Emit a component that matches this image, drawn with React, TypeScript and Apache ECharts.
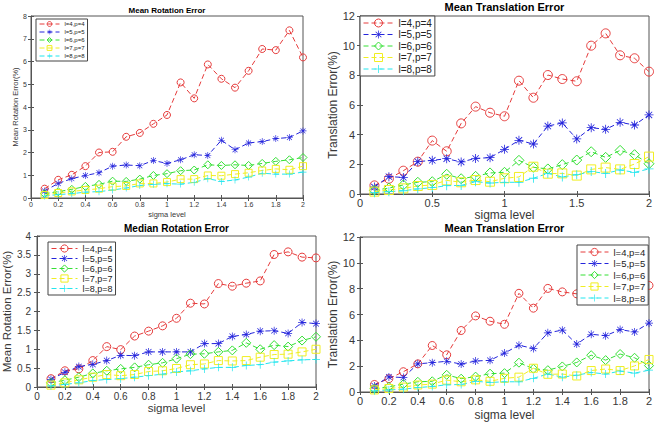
import React, { useEffect, useRef } from "react";
import * as echarts from "echarts";

const sigma = [0.1, 0.2, 0.3, 0.4, 0.5, 0.6, 0.7, 0.8, 0.9, 1.0, 1.1, 1.2, 1.3, 1.4, 1.5, 1.6, 1.7, 1.8, 1.9, 2.0];
const seriesNames = ["l=4,p=4", "l=5,p=5", "l=6,p=6", "l=7,p=7", "l=8,p=8"];

const meanRotL4 = [0.41, 0.8, 1.02, 1.4, 2.0, 2.03, 2.69, 2.86, 3.26, 3.65, 5.08, 4.38, 5.87, 5.24, 4.85, 5.59, 6.55, 6.5, 7.37, 6.18];
const meanRotL5 = [0.31, 0.64, 0.85, 0.99, 1.11, 1.4, 1.45, 1.42, 1.65, 1.52, 1.68, 1.9, 1.87, 2.54, 2.12, 2.42, 2.48, 2.61, 2.66, 2.95];
const meanRotL6 = [0.19, 0.28, 0.38, 0.51, 0.6, 0.74, 0.73, 0.83, 0.99, 1.07, 1.2, 1.23, 1.46, 1.43, 1.46, 1.43, 1.52, 1.61, 1.68, 1.78];
const meanRotL7 = [0.13, 0.22, 0.29, 0.35, 0.41, 0.5, 0.53, 0.64, 0.64, 0.7, 0.83, 0.83, 0.99, 0.98, 1.05, 1.11, 1.21, 1.28, 1.24, 1.4];
const meanRotL8 = [0.09, 0.15, 0.19, 0.26, 0.28, 0.35, 0.44, 0.55, 0.6, 0.63, 0.61, 0.69, 0.85, 0.73, 0.79, 0.92, 1.09, 1.05, 1.05, 1.14];

const meanTransL4 = [0.58, 1.03, 1.57, 2.18, 3.6, 2.88, 4.76, 5.89, 5.48, 5.24, 7.64, 6.49, 8.02, 7.75, 7.6, 10.0, 10.83, 9.35, 9.15, 8.25];
const meanTransL5 = [0.47, 1.17, 1.12, 2.18, 2.27, 2.38, 2.16, 2.4, 2.45, 3.01, 3.62, 3.37, 4.58, 4.79, 3.71, 4.47, 4.36, 4.83, 4.65, 5.33];
const meanTransL6 = [0.25, 0.4, 0.61, 0.79, 0.83, 1.33, 1.03, 1.19, 1.42, 1.46, 2.27, 1.8, 1.69, 1.98, 2.29, 2.85, 2.47, 2.94, 2.65, 2.04];
const meanTransL7 = [0.16, 0.27, 0.38, 0.54, 0.61, 0.92, 0.79, 0.94, 0.83, 1.06, 1.15, 1.84, 1.37, 1.39, 1.24, 1.66, 1.78, 1.66, 2.02, 2.52];
const meanTransL8 = [0.09, 0.16, 0.22, 0.34, 0.43, 0.56, 0.58, 0.83, 0.74, 0.79, 0.79, 1.06, 1.39, 1.15, 1.3, 1.51, 1.39, 1.62, 1.46, 1.69];

const medianRotL4 = [0.22, 0.43, 0.48, 0.7, 1.07, 0.99, 1.35, 1.48, 1.62, 1.82, 2.22, 2.2, 2.74, 2.67, 2.75, 2.81, 3.51, 3.58, 3.44, 3.42];
const medianRotL5 = [0.2, 0.39, 0.54, 0.6, 0.7, 0.84, 0.83, 0.93, 0.93, 0.93, 0.93, 1.15, 1.15, 1.34, 1.39, 1.48, 1.49, 1.42, 1.71, 1.68];
const medianRotL6 = [0.11, 0.18, 0.26, 0.36, 0.43, 0.48, 0.52, 0.59, 0.64, 0.75, 0.87, 0.88, 0.93, 0.97, 1.17, 1.0, 1.11, 1.07, 1.23, 1.33];
const medianRotL7 = [0.05, 0.11, 0.19, 0.26, 0.33, 0.3, 0.33, 0.41, 0.43, 0.49, 0.59, 0.61, 0.7, 0.69, 0.7, 0.79, 0.86, 0.87, 0.93, 1.0];
const medianRotL8 = [0.03, 0.07, 0.11, 0.17, 0.2, 0.22, 0.26, 0.3, 0.34, 0.4, 0.43, 0.48, 0.52, 0.52, 0.57, 0.59, 0.66, 0.69, 0.72, 0.73];

const COLORS = ["#e63c3c", "#2424dc", "#34e034", "#f0ee22", "#22e6ee"];
const FONT = "'Liberation Sans', Arial, Helvetica, sans-serif";
const AXIS_COLOR = "#555555";
const TEXT_COLOR = "#383838";

const ASTERISK =
  "path://M0,4.55 H10 V5.45 H0 Z M4.55,0 H5.45 V10 H4.55 Z M1.78,1.14 L8.86,8.22 L8.22,8.86 L1.14,1.78 Z M1.14,8.22 L8.22,1.14 L8.86,1.78 L1.78,8.86 Z";
const PLUS = "path://M4.55,0 H5.45 V4.55 H10 V5.45 H5.45 V10 H4.55 V5.45 H0 V4.55 H4.55 Z";
const SYMBOLS = ["circle", ASTERISK, "diamond", "rect", PLUS];
const HOLLOW = [true, false, true, true, false];

type Panel = {
  title: string;
  ylabel: string;
  data: number[][];
  grid: { left: number; top: number; width: number; height: number };
  yMax: number;
  yInterval: number;
  xInterval: number;
  tickFont: number;
  titleFont: number;
  titleY: number;
  labelFont: number;
  yNameGap: number;
  xNameGap: number;
  xLabelMargin: number;
  yLabelMargin: number;
  symbolSize: number;
  legend: { left: number; top: number; fontSize: number; itemWidth: number; itemHeight: number; itemGap: number; padding: number[] };
};

const panels: Panel[] = [
  {
    title: "Mean Rotation Error",
    ylabel: "Mean Rotation Error(%)",
    data: [meanRotL4, meanRotL5, meanRotL6, meanRotL7, meanRotL8],
    grid: { left: 31, top: 16, width: 272, height: 182 },
    yMax: 8, yInterval: 1, xInterval: 0.2,
    tickFont: 7, titleFont: 8, titleY: 10, labelFont: 7.5,
    yNameGap: 8, xNameGap: 12, xLabelMargin: 3, yLabelMargin: 4, symbolSize: 7,
    legend: { left: 36, top: 19, fontSize: 6, itemWidth: 20, itemHeight: 6, itemGap: 2, padding: [2, 3, 2, 3] },
  },
  {
    title: "Mean Translation Error",
    ylabel: "Translation Error(%)",
    data: [meanTransL4, meanTransL5, meanTransL6, meanTransL7, meanTransL8],
    grid: { left: 360, top: 16, width: 289, height: 178 },
    yMax: 12, yInterval: 2, xInterval: 0.5,
    tickFont: 11, titleFont: 11, titleY: 7, labelFont: 12,
    yNameGap: 19, xNameGap: 15, xLabelMargin: 3, yLabelMargin: 5, symbolSize: 9,
    legend: { left: 360, top: 16, fontSize: 10, itemWidth: 30, itemHeight: 10, itemGap: 1.5, padding: [2, 3, 2, 3] },
  },
  {
    title: "Median Rotation Error",
    ylabel: "Mean Rotation Error(%)",
    data: [medianRotL4, medianRotL5, medianRotL6, medianRotL7, medianRotL8],
    grid: { left: 37, top: 236, width: 279, height: 151 },
    yMax: 4, yInterval: 0.5, xInterval: 0.2,
    tickFont: 10, titleFont: 10, titleY: 228, labelFont: 11.5,
    yNameGap: 16, xNameGap: 14, xLabelMargin: 4, yLabelMargin: 6, symbolSize: 8,
    legend: { left: 48, top: 242, fontSize: 9, itemWidth: 26, itemHeight: 9, itemGap: 1, padding: [2, 3, 2, 3] },
  },
  {
    title: "Mean Translation Error",
    ylabel: "Translation Error(%)",
    data: [meanTransL4, meanTransL5, meanTransL6, meanTransL7, meanTransL8],
    grid: { left: 360, top: 237, width: 289, height: 157 },
    yMax: 12, yInterval: 2, xInterval: 0.2,
    tickFont: 11, titleFont: 11, titleY: 228, labelFont: 12,
    yNameGap: 17, xNameGap: 17, xLabelMargin: 3, yLabelMargin: 5, symbolSize: 8,
    legend: { left: 577, top: 245, fontSize: 9.5, itemWidth: 28, itemHeight: 9, itemGap: 1.5, padding: [2, 3, 2, 3] },
  },
];

function buildOption() {
  const grids: any[] = [];
  const xAxes: any[] = [];
  const yAxes: any[] = [];
  const series: any[] = [];
  const legends: any[] = [];
  const graphics: any[] = [];

  panels.forEach((p, i) => {
    grids.push({ ...p.grid, show: true, borderColor: AXIS_COLOR, borderWidth: 1, backgroundColor: "#fff" });
    const tick = { show: true, inside: true, length: 3, lineStyle: { color: AXIS_COLOR, width: 1 } };
    xAxes.push({
      type: "value", gridIndex: i, min: 0, max: 2, interval: p.xInterval, position: "bottom",
      axisLine: { show: true, onZero: false, lineStyle: { color: AXIS_COLOR } },
      axisTick: tick,
      axisLabel: { fontSize: p.tickFont, color: TEXT_COLOR, margin: p.xLabelMargin, fontFamily: FONT },
      splitLine: { show: false },
      name: "sigma level", nameLocation: "middle", nameGap: p.xNameGap,
      nameTextStyle: { fontSize: p.labelFont, color: TEXT_COLOR, fontFamily: FONT },
    });
    xAxes.push({
      type: "value", gridIndex: i, min: 0, max: 2, interval: p.xInterval, position: "top",
      axisLine: { show: false }, axisTick: tick, axisLabel: { show: false }, splitLine: { show: false },
    });
    yAxes.push({
      type: "value", gridIndex: i, min: 0, max: p.yMax, interval: p.yInterval, position: "left",
      axisLine: { show: true, onZero: false, lineStyle: { color: AXIS_COLOR } },
      axisTick: tick,
      axisLabel: { fontSize: p.tickFont, color: TEXT_COLOR, margin: p.yLabelMargin, fontFamily: FONT },
      splitLine: { show: false },
      name: p.ylabel, nameLocation: "middle", nameGap: p.yNameGap, nameRotate: 90,
      nameTextStyle: { fontSize: p.labelFont, color: TEXT_COLOR, fontFamily: FONT },
    });
    yAxes.push({
      type: "value", gridIndex: i, min: 0, max: p.yMax, interval: p.yInterval, position: "right",
      axisLine: { show: false }, axisTick: tick, axisLabel: { show: false }, splitLine: { show: false },
    });

    p.data.forEach((vals, k) => {
      const color = COLORS[k];
      series.push({
        type: "line",
        name: seriesNames[k],
        xAxisIndex: 2 * i,
        yAxisIndex: 2 * i,
        data: sigma.map((s, j) => [s, vals[j]]),
        symbol: SYMBOLS[k],
        symbolSize: k === 2 ? p.symbolSize + 1 : p.symbolSize,
        showSymbol: true,
        clip: false,
        lineStyle: { color, width: 1, type: [5, 3] },
        itemStyle: HOLLOW[k]
          ? { color: "rgba(0,0,0,0)", borderColor: color, borderWidth: 1 }
          : { color, borderColor: color, borderWidth: 0 },
        emphasis: { disabled: true },
      });
    });

    legends.push({
      left: p.legend.left,
      top: p.legend.top,
      orient: "vertical",
      itemWidth: p.legend.itemWidth,
      itemHeight: p.legend.itemHeight,
      itemGap: p.legend.itemGap,
      padding: p.legend.padding,
      backgroundColor: "#fff",
      borderColor: "#444",
      borderWidth: 1,
      selectedMode: false,
      lineStyle: { width: 1 },
      textStyle: { fontSize: p.legend.fontSize, color: "#222", fontFamily: FONT },
      data: seriesNames.map((n, k) => ({
        name: n,
        itemStyle: { borderWidth: HOLLOW[k] ? 1 : 0 },
      })),
    });

    graphics.push({
      type: "text",
      x: p.grid.left + p.grid.width / 2,
      y: p.titleY,
      style: {
        text: p.title,
        fontSize: p.titleFont,
        fontWeight: "bold",
        fontFamily: FONT,
        fill: "#000",
        align: "center",
        verticalAlign: "middle",
      },
    });
  });

  return {
    animation: false,
    backgroundColor: "#fff",
    grid: grids,
    xAxis: xAxes,
    yAxis: yAxes,
    legend: legends,
    series,
    graphic: graphics,
  };
}

export default function App() {
  const ref = useRef<HTMLDivElement>(null);
  useEffect(() => {
    if (!ref.current) return;
    const chart = echarts.init(ref.current, undefined, { renderer: "svg" });
    chart.setOption(buildOption() as any);
    return () => chart.dispose();
  }, []);
  return <div ref={ref} style={{ position: "fixed", left: 0, top: 0, width: 656, height: 422 }} />;
}
